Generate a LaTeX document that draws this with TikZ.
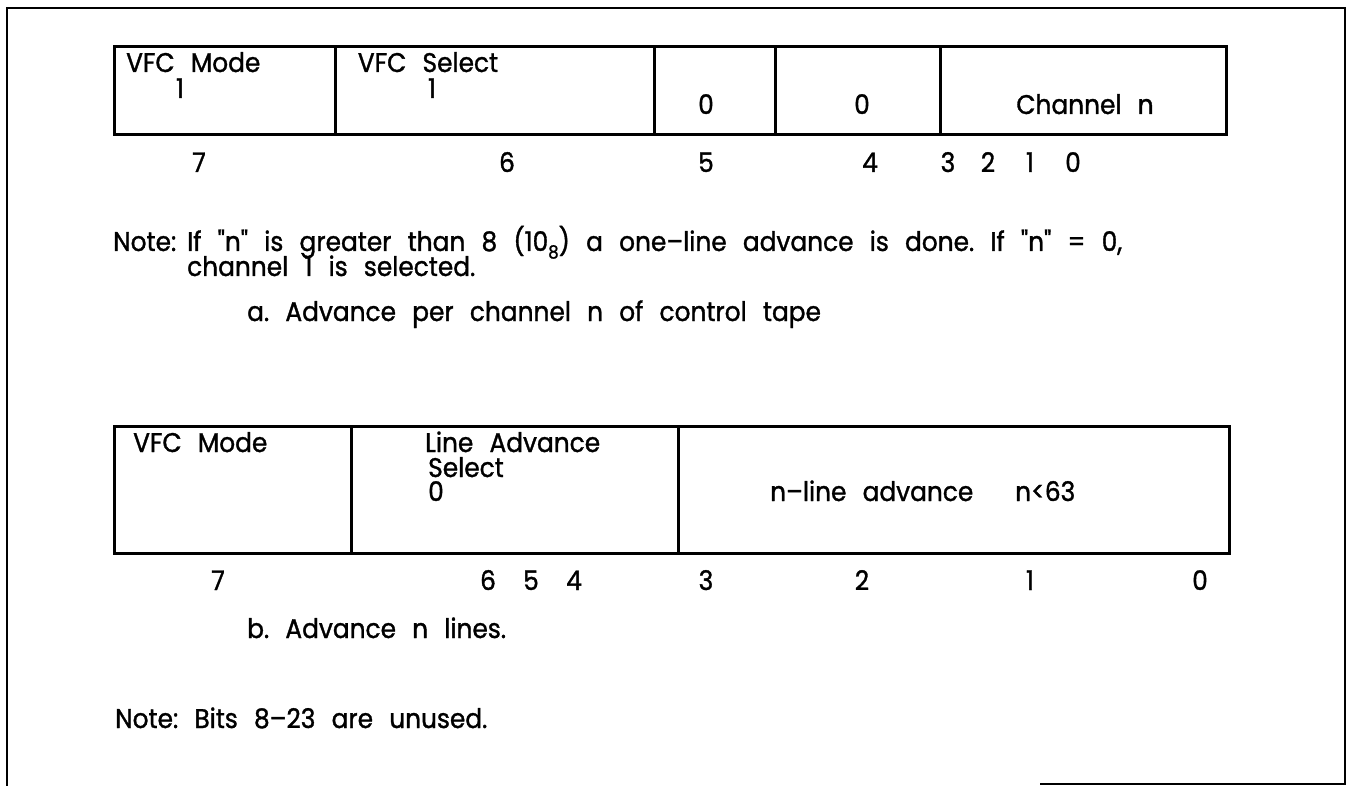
\documentclass[tikz,border=0pt]{standalone}
\usepackage{fontspec}
\setmainfont{Poppins}[Ligatures=TeXOff,FakeStretch=0.92,FakeBold=1.2]
\newcommand{\myfont}{\fontsize{27}{32}\selectfont\frenchspacing\spaceskip=0.6em\relax}
\begin{document}
\begin{tikzpicture}[x=1pt,y=-1pt,
  frame/.style={line width=2.2pt},
  cell/.style={draw,line width=2.8pt,anchor=north west,inner sep=0pt},
  txt/.style={inner sep=0pt,font=\myfont},
  tl/.style={txt,anchor=base west},
  tc/.style={txt,anchor=base}]
\useasboundingbox (0,0) rectangle (1349,786);
% outer frame
\coordinate (fbl) at (7,786);
\coordinate (ftl) at (7,8);
\coordinate (ftr) at (1345,8);
\coordinate (fbr) at (1345,784);
\coordinate (fbm) at (1040,784);
\draw[frame] (fbl) -- (ftl) -- (ftr) -- (fbr) -- (fbm);
% register a
\node[cell,minimum width=221,minimum height=88] (a7) at (113,45) {};
\node[cell,minimum width=319,minimum height=88] (a6) at (334,45) {};
\node[cell,minimum width=121,minimum height=88] (a5) at (653,45) {};
\node[cell,minimum width=165,minimum height=88] (a4) at (774,45) {};
\node[cell,minimum width=286,minimum height=88] (a30) at (939,45) {};
\node[tl] at (126,72) {VFC Mode};
\node[tc] at (180,98) {1};
\node[tc] at (428,72) {VFC Select};
\node[tc] at (432,98) {1};
\node[tc] at (706,114) {0};
\node[tc] at (862,114) {0};
\node[tc] at (1085,114) {Channel n};
\node[tc] at (199,172) {7};
\node[tc] at (507,172) {6};
\node[tc] at (706,172) {5};
\node[tc] at (870,172) {4};
\node[tc] at (948,172) {3};
\node[tc] at (988,172) {2};
\node[tc] at (1030,172) {1};
\node[tc] at (1073,172) {0};
% note a
\node[tl] at (113,251) {Note:};
\node[tl] at (187,251) {If "n" is greater than 8 (10\raisebox{-0.5ex}{\fontsize{18}{18}\selectfont 8}) a one–line advance is done. If "n" = 0,};
\node[tl] at (187,276) {channel 1 is selected.};
\node[tl] at (247,321) {a. Advance per channel n of control tape};
% register b
\node[cell,minimum width=237,minimum height=127] (b7) at (113,425) {};
\node[cell,minimum width=327,minimum height=127] (b64) at (350,425) {};
\node[cell,minimum width=551,minimum height=127] (b30) at (677,425) {};
\node[tl] at (133,452) {VFC Mode};
\node[tl] at (425,452) {Line Advance};
\node[tl] at (428,477) {Select};
\node[tl] at (428,501) {0};
\node[tl] at (770,501) {n–line advance};
\node[tl] at (1015,501) {n<63};
\node[tc] at (218,590) {7};
\node[tc] at (488,590) {6};
\node[tc] at (531,590) {5};
\node[tc] at (574,590) {4};
\node[tc] at (706,590) {3};
\node[tc] at (862,590) {2};
\node[tc] at (1030,590) {1};
\node[tc] at (1200,590) {0};
\node[tl] at (247,638) {b. Advance n lines.};
\node[tl] at (115,728) {Note: Bits 8–23 are unused.};
\end{tikzpicture}
\end{document}
